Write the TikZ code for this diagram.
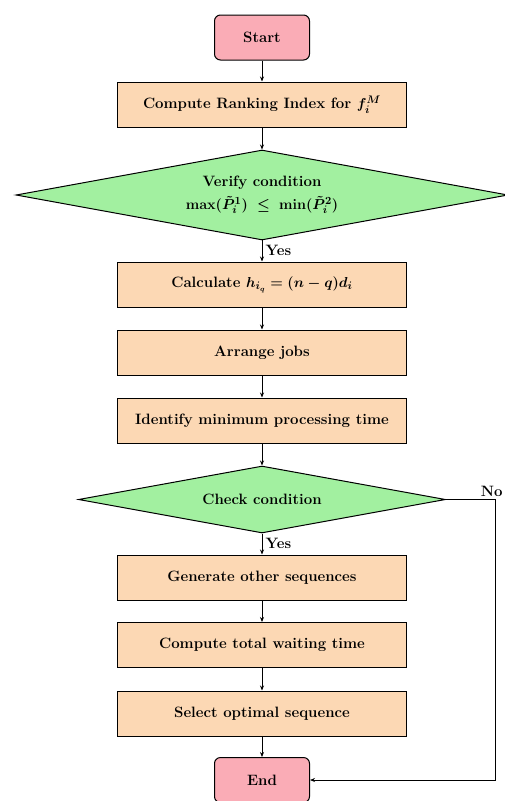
\documentclass[tikz,border=0pt]{standalone}
\usetikzlibrary{shapes.geometric,arrows.meta,calc}
\definecolor{startc}{RGB}{250,172,182}
\definecolor{procc}{RGB}{252,216,180}
\definecolor{decc}{RGB}{162,240,160}
\begin{document}
\begin{tikzpicture}[x=1pt,y=-1pt,
  every node/.style={font=\fontsize{15}{20}\selectfont\bfseries\boldmath},
  term/.style={draw, rounded corners=6pt, fill=startc, minimum width=95pt, minimum height=45pt, line width=1pt, inner sep=0pt},
  proc/.style={draw, fill=procc, minimum width=289pt, minimum height=45pt, line width=1pt, inner sep=0pt},
  dec/.style={draw, diamond, fill=decc, inner sep=0pt, line width=1pt},
  arr/.style={-{Stealth[length=5pt,width=4pt]}, line width=1pt},
  lbl/.style={font=\fontsize{15}{18}\selectfont\bfseries}]
\useasboundingbox (0,0) rectangle (505,801);
\node[term] (start) at (262,37.5) {Start};
\node[proc] (rank) at (262,104.5) {Compute Ranking Index for $f_i^M$};
\node[dec, minimum width=492pt, minimum height=90pt, aspect=5.4, align=center] (d1) at (262,195) {Verify condition\\[3pt]$\max(\tilde{P}_i^1)\;\leq\;\min(\tilde{P}_i^2)$};
\node[proc] (calc) at (262,284.5) {Calculate $h_{i_q}=(n-q)d_i$};
\node[proc] (arrj) at (262,352.5) {Arrange jobs};
\node[proc] (ident) at (262,420.5) {Identify minimum processing time};
\node[dec, minimum width=367pt, minimum height=67pt, aspect=5.5] (d2) at (262,499.5) {Check condition};
\node[proc] (gen) at (262,577.5) {Generate other sequences};
\node[proc] (tot) at (262,645) {Compute total waiting time};
\node[proc] (sel) at (262,713.5) {Select optimal sequence};
\node[term] (end) at (262,780) {End};
\coordinate (nc) at (495,499.5);
\draw[arr] (start) -- (rank);
\draw[arr] (rank) -- (d1);
\draw[arr] (d1) -- node[lbl, anchor=west, pos=0.45, inner sep=3pt] {Yes} (calc);
\draw[arr] (calc) -- (arrj);
\draw[arr] (arrj) -- (ident);
\draw[arr] (ident) -- (d2);
\draw[arr] (d2) -- node[lbl, anchor=west, pos=0.45, inner sep=3pt] {Yes} (gen);
\draw[arr] (gen) -- (tot);
\draw[arr] (tot) -- (sel);
\draw[arr] (sel) -- (end);
\draw[arr] (d2.east) -- (nc) node[lbl, anchor=south east, inner sep=2pt, xshift=10pt] {No} |- (end.east);
\end{tikzpicture}
\end{document}
